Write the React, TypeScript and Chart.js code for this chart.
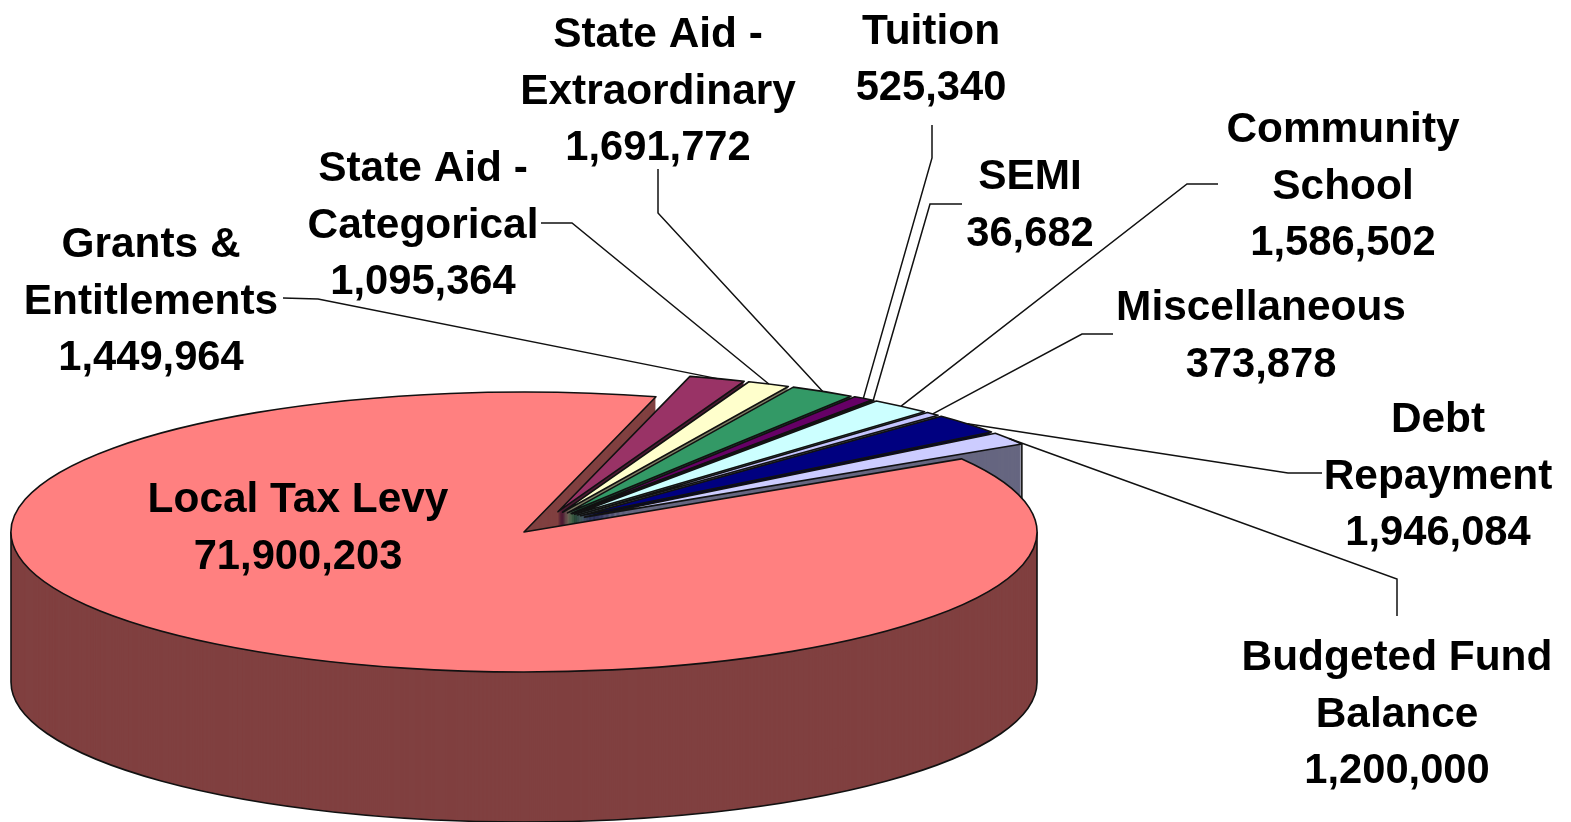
import React, { useEffect, useRef } from "react";
import { Chart, registerables } from "chart.js";

Chart.register(...registerables);

const categories = [
  "Local Tax Levy",
  "Grants & Entitlements",
  "State Aid - Categorical",
  "State Aid - Extraordinary",
  "Tuition",
  "SEMI",
  "Community School",
  "Miscellaneous",
  "Debt Repayment",
  "Budgeted Fund Balance",
];
const values = [71900203, 1449964, 1095364, 1691772, 525340, 36682, 1586502, 373878, 1946084, 1200000];
const topColors = ["#FF8080", "#993366", "#FFFFCC", "#339966", "#660066", "#FF8080", "#CCFFFF", "#C4C4FF", "#000080", "#CCCCFF"];
const wallColors = ["#804040", "#4D1A33", "#808066", "#1A4D33", "#330033", "#804040", "#668080", "#626280", "#000040", "#666680"];

// Text broken into lines as they appear in each label
const labelLines = [
  ["Local Tax Levy"],
  ["Grants &", "Entitlements"],
  ["State Aid -", "Categorical"],
  ["State Aid -", "Extraordinary"],
  ["Tuition"],
  ["SEMI"],
  ["Community", "School"],
  ["Miscellaneous"],
  ["Debt", "Repayment"],
  ["Budgeted Fund", "Balance"],
];

// Layout: label centre x, first-line centre y
const labelX = [298, 151, 423, 658, 931, 1030, 1343, 1261, 1438, 1397];
const labelY = [500.5, 245.5, 169.5, 35.5, 32, 177.5, 130.5, 308.5, 420.5, 658.5];
// Layout: leader start and elbow (x, y) for each label (none for the first)
const leaderPaths: number[][][] = [
  [],
  [[283, 298], [318, 299]],
  [[541, 223], [572, 223]],
  [[658, 169], [658, 213]],
  [[932, 125], [932, 158]],
  [[962, 204], [930, 204]],
  [[1218, 184], [1187, 184]],
  [[1113, 334], [1082, 334]],
  [[1322, 473], [1288, 473]],
  [[1397, 616], [1397, 579]],
];

const WIDTH = 1571;
const HEIGHT = 822;
const CX = 524;
const CY = 532;
const RX = 513;
const RY = 140;
const DEPTH = 150;
const EXPLODE = 0.1;
const SHIFT_X = 18;
const SHIFT_Y = -7;
const ROTATION = 58.5;
const NAME_FONT = "bold 42.4px 'Liberation Sans', Arial, sans-serif";
const VALUE_FONT = "bold 41.7px 'Liberation Sans', Arial, sans-serif";
const LINE_PITCH = 56.6;

const pie3d = {
  id: "pie3d",
  beforeDatasetDraw(chart: any) {
    const ctx: CanvasRenderingContext2D = chart.ctx;
    const arcs: any[] = chart.getDatasetMeta(0).data;
    const mid = (a: any) => (a.startAngle + a.endAngle) / 2;

    const place = (a: any, dy: number, explode: number) => {
      const m = mid(a);
      const on = explode > 0 ? 1 : 0;
      ctx.translate(CX + on * SHIFT_X, CY + dy + on * SHIFT_Y);
      ctx.scale(RX / a.outerRadius, RY / a.outerRadius);
      ctx.translate(Math.cos(m) * explode * a.outerRadius, Math.sin(m) * explode * a.outerRadius);
      ctx.translate(-a.x, -a.y);
    };
    const fillArc = (a: any, dy: number, explode: number, color: string) => {
      const saved = a.options;
      a.options = { ...saved, backgroundColor: color, borderWidth: 0 };
      ctx.save();
      place(a, dy, explode);
      a.draw(ctx);
      ctx.restore();
      a.options = saved;
    };
    const extrude = (i: number, explode: number) => {
      for (let d = DEPTH; d >= 1; d--) fillArc(arcs[i], d, explode, wallColors[i]);
    };
    const outline = (a: any, explode: number) => {
      ctx.save();
      ctx.beginPath();
      ctx.save();
      place(a, 0, explode);
      ctx.moveTo(a.x, a.y);
      ctx.arc(a.x, a.y, a.outerRadius, a.startAngle, a.endAngle);
      ctx.closePath();
      ctx.restore();
      ctx.strokeStyle = "#111";
      ctx.lineWidth = 1.6;
      ctx.lineJoin = "round";
      ctx.stroke();
      ctx.restore();
    };

    // Cut face and rim of the main slice
    extrude(0, 0);

    // Exploded slices, from the back to the front
    for (let i = 1; i < arcs.length; i++) {
      extrude(i, EXPLODE);
      const a = arcs[i];
      if (i === arcs.length - 1) {
        const px = CX + SHIFT_X + (EXPLODE * Math.cos(mid(a)) + Math.cos(a.endAngle)) * RX;
        const py = CY + SHIFT_Y + (EXPLODE * Math.sin(mid(a)) + Math.sin(a.endAngle)) * RY;
        ctx.save();
        ctx.strokeStyle = "#111";
        ctx.lineWidth = 1.6;
        ctx.beginPath();
        ctx.moveTo(px, py);
        ctx.lineTo(px, py + DEPTH);
        ctx.stroke();
        ctx.restore();
      }
      fillArc(a, 0, EXPLODE, topColors[i]);
      outline(a, EXPLODE);
    }

    // The rim of the main slice stands in front of the exploded walls
    ctx.save();
    ctx.beginPath();
    ctx.rect(720, 0, WIDTH - 720, HEIGHT);
    ctx.clip();
    extrude(0, 0);
    ctx.restore();

    // Rim outline
    ctx.save();
    ctx.beginPath();
    ctx.ellipse(CX, CY + DEPTH, RX, RY, 0, 0, Math.PI);
    ctx.moveTo(CX - RX, CY);
    ctx.lineTo(CX - RX, CY + DEPTH);
    ctx.moveTo(CX + RX, CY);
    ctx.lineTo(CX + RX, CY + DEPTH);
    ctx.strokeStyle = "#111";
    ctx.lineWidth = 1.6;
    ctx.stroke();
    ctx.restore();

    fillArc(arcs[0], 0, 0, topColors[0]);
    outline(arcs[0], 0);
    return false;
  },
  afterDraw(chart: any) {
    const ctx: CanvasRenderingContext2D = chart.ctx;
    const arcs: any[] = chart.getDatasetMeta(0).data;
    ctx.save();
    ctx.strokeStyle = "#111";
    ctx.lineWidth = 1.5;
    leaderPaths.forEach((path, i) => {
      if (!path.length) return;
      const m = (arcs[i].startAngle + arcs[i].endAngle) / 2;
      ctx.beginPath();
      ctx.moveTo(path[0][0], path[0][1]);
      ctx.lineTo(path[1][0], path[1][1]);
      ctx.lineTo(
        CX + SHIFT_X + Math.cos(m) * (1 + EXPLODE) * RX,
        CY + SHIFT_Y + Math.sin(m) * (1 + EXPLODE) * RY
      );
      ctx.stroke();
    });
    ctx.fillStyle = "#000";
    ctx.textAlign = "center";
    ctx.textBaseline = "middle";
    categories.forEach((_, i) => {
      const names = labelLines[i];
      ctx.font = NAME_FONT;
      names.forEach((line, k) => ctx.fillText(line, labelX[i], labelY[i] + k * LINE_PITCH));
      ctx.font = VALUE_FONT;
      ctx.fillText(values[i].toLocaleString("en-US"), labelX[i], labelY[i] + names.length * LINE_PITCH);
    });
    ctx.restore();
  },
};

export default function App() {
  const ref = useRef<HTMLCanvasElement>(null);
  useEffect(() => {
    document.body.style.margin = "0";
    const chart = new Chart(ref.current!, {
      type: "pie",
      data: {
        labels: categories,
        datasets: [{ data: values, backgroundColor: topColors, borderWidth: 0 }],
      },
      options: {
        responsive: false,
        animation: false,
        rotation: ROTATION,
        events: [],
        layout: { padding: 0 },
        plugins: { legend: { display: false }, tooltip: { enabled: false } },
      },
      plugins: [pie3d],
    } as any);
    return () => chart.destroy();
  }, []);
  return (
    <canvas
      ref={ref}
      width={WIDTH}
      height={HEIGHT}
      style={{ display: "block", width: WIDTH, height: HEIGHT, background: "#fff" }}
    />
  );
}
